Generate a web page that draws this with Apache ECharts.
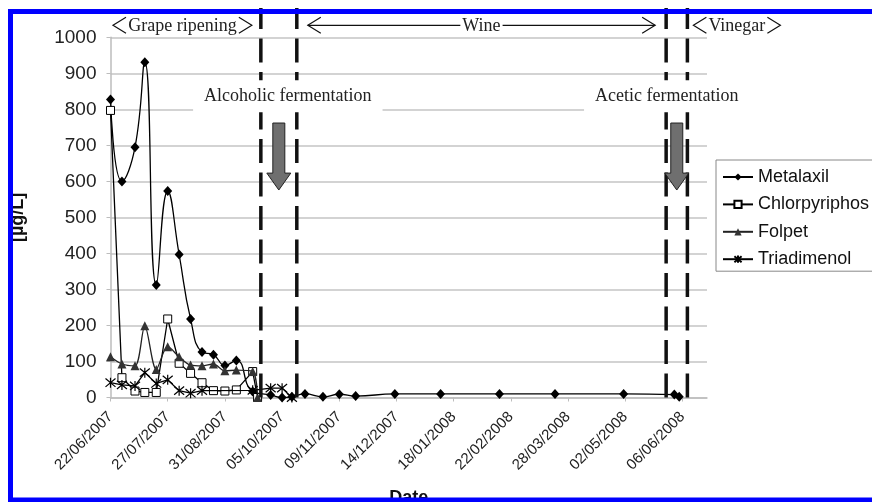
<!DOCTYPE html>
<html><head><meta charset="utf-8">
<script src="https://cdn.jsdelivr.net/npm/echarts@6/dist/echarts.min.js"></script>
<style>html,body{margin:0;padding:0;background:#fff}#c{width:872px;height:502px}</style>
</head><body><div id="c"></div>
<script>
// ---------- data ----------
const axisStart = '22/06/2007';
const axisEnd = '21/06/2008';
const xTickLabels = ['22/06/2007','27/07/2007','31/08/2007','05/10/2007','09/11/2007','14/12/2007','18/01/2008','22/02/2008','28/03/2008','02/05/2008','06/06/2008'];

const metalaxilDates = ['22/06/2007','29/06/2007','07/07/2007','13/07/2007','20/07/2007','27/07/2007','03/08/2007','10/08/2007','17/08/2007','24/08/2007','31/08/2007','07/09/2007','17/09/2007','28/09/2007','05/10/2007','11/10/2007','19/10/2007','30/10/2007','09/11/2007','19/11/2007','13/12/2007','10/01/2008','15/02/2008','20/03/2008','01/05/2008','01/06/2008','04/06/2008'];
const metalaxilValues = [827,600,695,931,312,573,397,218,126,119,89,103,17,7,0,2,10,2,9,4,10,10,10,10,10,8,2];

const chlorDates = ['22/06/2007','29/06/2007','07/07/2007','13/07/2007','20/07/2007','27/07/2007','03/08/2007','10/08/2007','17/08/2007','24/08/2007','31/08/2007','07/09/2007','17/09/2007','20/09/2007'];
const chlorValues = [797,55,18,14,14,218,95,67,41,19,18,21,72,0];

const folpetDates = ['22/06/2007','29/06/2007','07/07/2007','13/07/2007','20/07/2007','27/07/2007','03/08/2007','10/08/2007','17/08/2007','24/08/2007','31/08/2007','07/09/2007','17/09/2007','20/09/2007'];
const folpetValues = [113,93,88,199,78,141,113,90,88,93,74,76,72,0];

const triaDates = ['22/06/2007','29/06/2007','07/07/2007','13/07/2007','20/07/2007','27/07/2007','03/08/2007','10/08/2007','17/08/2007','17/09/2007','28/09/2007','05/10/2007','11/10/2007'];
const triaValues = [41,35,32,69,39,49,19,12,19,20,26,26,0];

// phase boundaries (dashed lines)
const phaseLineDates = ['22/09/2007','14/10/2007','27/05/2008','09/06/2008'];
const phaseNames = ['Grape ripening','Wine','Vinegar'];
const fermentNames = ['Alcoholic fermentation','Acetic fermentation'];

// ---------- helpers ----------
function parseD(s){const p=s.split('/').map(Number);return Date.UTC(p[2],p[1]-1,p[0]);}
const base = parseD(axisStart);
function toDay(s){return Math.round((parseD(s)-base)/86400000);}
const tickDays = xTickLabels.map(toDay);
function pairs(ds,vs){return ds.map((d,i)=>[toDay(d),vs[i]]);}

const FS = '"Liberation Sans", Arial, sans-serif';
const SERIF = '"Liberation Serif", "Times New Roman", serif';

const chart = echarts.init(document.getElementById('c'), null, {renderer:'canvas'});
const line = {color:'#000', width:1.3};
chart.setOption({
  animation:false,
  backgroundColor:'#fff',
  grid:{left:110.5, right:165, top:37.3, bottom:104.5, outerBoundsMode:'none', containLabel:false},
  legend:{
    orient:'vertical', left:716, top:160,
    padding:[7,60,2,6], itemGap:7.4, itemWidth:30, itemHeight:9,
    borderColor:'#888', borderWidth:1,
    textStyle:{fontSize:18, color:'#111', fontFamily:FS, lineHeight:20},
    data:['Metalaxil','Chlorpyriphos','Folpet','Triadimenol']
  },
  xAxis:{
    type:'value', min:0, max:toDay(axisEnd),
    axisLine:{show:true, lineStyle:{color:'#bdbdbd', width:1.5}},
    axisTick:{show:true, customValues:tickDays, length:4, lineStyle:{color:'#bdbdbd'}},
    axisLabel:{customValues:tickDays, rotate:45, fontSize:15, color:'#222', fontFamily:FS, margin:17,
      formatter:v=>{const i=tickDays.indexOf(Math.round(v));return i>=0?xTickLabels[i]:'';}},
    splitLine:{show:false},
    name:'Date', nameLocation:'middle', nameGap:92,
    nameTextStyle:{fontWeight:'bold', fontSize:18, color:'#111', fontFamily:FS}
  },
  yAxis:{
    type:'value', min:0, max:1000, interval:100,
    axisLine:{show:true, lineStyle:{color:'#bdbdbd', width:1.5}},
    axisTick:{show:true, length:4, lineStyle:{color:'#bdbdbd'}},
    splitLine:{lineStyle:{color:'#c4c4c4', width:1.5}},
    axisLabel:{fontSize:19, color:'#222', fontFamily:FS, margin:14, formatter:v=>String(v)},
    name:'[µg/L]', nameLocation:'middle', nameRotate:90, nameGap:83,
    nameTextStyle:{fontWeight:'bold', fontSize:18, color:'#111', fontFamily:FS}
  },
  series:[
    {name:'Metalaxil', type:'line', smooth:0.5, data:pairs(metalaxilDates,metalaxilValues),
      symbol:'diamond', symbolSize:[9,10], lineStyle:line, itemStyle:{color:'#000'}, z:2},
    {name:'Chlorpyriphos', type:'line', data:pairs(chlorDates,chlorValues),
      symbol:'rect', symbolSize:8, lineStyle:line, itemStyle:{color:'#fff', borderColor:'#000', borderWidth:1}, z:3},
    {name:'Folpet', type:'line', smooth:0.3, data:pairs(folpetDates,folpetValues),
      symbol:'triangle', symbolSize:9, lineStyle:{color:'#222', width:1.3}, itemStyle:{color:'#333'}, z:4},
    {name:'Triadimenol', type:'line', data:pairs(triaDates,triaValues),
      symbol:'path://M0,0L10,10M10,0L0,10M5,-1L5,11', symbolSize:10, lineStyle:line,
      itemStyle:{color:'#000', borderColor:'#000', borderWidth:1.2}, z:5}
  ]
});

// ---------- annotations positioned through the axes ----------
const px = d => chart.convertToPixel({xAxisIndex:0}, d);
const py = v => chart.convertToPixel({yAxisIndex:0}, v);
const lx = phaseLineDates.map(s=>px(toDay(s)));
const y0 = py(0), yTop = py(1000) - 12;
const g = [];
lx.forEach(x=>g.push({type:'line', z:10, shape:{x1:x,y1:y0,x2:x,y2:8}, style:{stroke:'#111', lineWidth:3.5, lineDash:[24,9.5]}}));
function arrow(cx){
  const t=py(762), h=py(623), tip=py(576);
  return {type:'polygon', z:11, shape:{points:[[cx-6,t],[cx+6,t],[cx+6,h],[cx+12,h],[cx,tip],[cx-12,h],[cx-6,h]]},
    style:{fill:'#6f6f6f', stroke:'#222', lineWidth:1}};
}
const a1=(lx[0]+lx[1])/2, a2=(lx[2]+lx[3])/2;
g.push(arrow(a1)); g.push(arrow(a2));
const fy = py(836);
[[fermentNames[0], a1+9],[fermentNames[1], a2-10]].forEach(([t,x])=>g.push({type:'text', z:12, x:x, y:fy,
  style:{text:t, fontSize:18, fontFamily:SERIF, fill:'#222', align:'center', verticalAlign:'middle', backgroundColor:'#fff', padding:[7,11]}}));
function chev(tx, dir){
  return {type:'polyline', z:12, shape:{points:[[tx+dir*13,yTop-8],[tx,yTop],[tx+dir*13,yTop+8]]}, style:{stroke:'#111', lineWidth:1.2, fill:null}};
}
const phases = [[px(0)+2.5, lx[0]-9, false],[lx[1]+11, lx[2]-11, true],[lx[3]+6, lx[3]+93, false]];
phases.forEach(([l,r,withLine],i)=>{
  g.push(chev(l,1)); g.push(chev(r,-1));
  if(withLine) g.push({type:'line', z:11, shape:{x1:l,y1:yTop,x2:r,y2:yTop}, style:{stroke:'#111', lineWidth:1.2}});
  g.push({type:'text', z:13, x:(l+r)/2, y:yTop+1, style:{text:phaseNames[i], fontSize:18, fontFamily:SERIF, fill:'#222', align:'center', verticalAlign:'middle', backgroundColor: withLine?'#fff':null, padding:withLine?[0,2]:0}});
});
g.push({type:'rect', z:100, shape:{x:10.5,y:11.5,width:900,height:488.5}, style:{fill:null, stroke:'#0000ff', lineWidth:5}});
chart.setOption({graphic:g});
</script></body></html>
